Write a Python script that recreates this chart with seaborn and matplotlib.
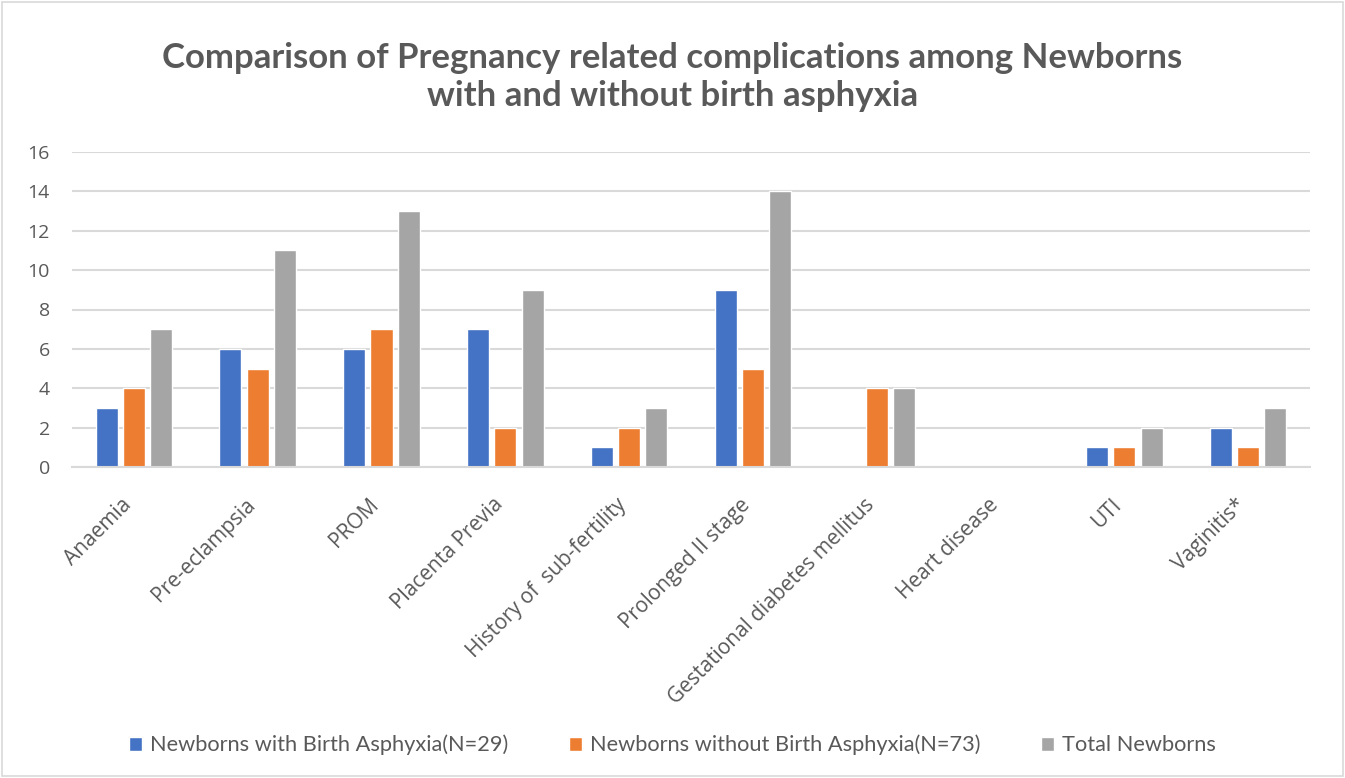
import matplotlib
matplotlib.use("Agg")
import matplotlib.pyplot as plt
import matplotlib.transforms as mtransforms
import seaborn as sns
import pandas as pd
from matplotlib.patches import Rectangle

categories = ["Anaemia", "Pre-eclampsia", "PROM", "Placenta Previa",
              "History of  sub-fertility", "Prolonged II stage",
              "Gestational diabetes mellitus", "Heart disease", "UTI", "Vaginitis*"]
with_asphyxia = [3, 6, 6, 7, 1, 9, 0, 0, 1, 2]
without_asphyxia = [4, 5, 7, 2, 2, 5, 4, 0, 1, 1]
total_newborns = [7, 11, 13, 9, 3, 14, 4, 0, 2, 3]
series_names = ["Newborns with Birth Asphyxia(N=29)",
                "Newborns without Birth Asphyxia(N=73)",
                "Total Newborns"]
y_ticks = [0, 2, 4, 6, 8, 10, 12, 14, 16]
colors = ["#4472C4", "#ED7D31", "#A5A5A5"]

df = pd.DataFrame({
    "category": categories * 3,
    "series": [series_names[0]] * 10 + [series_names[1]] * 10 + [series_names[2]] * 10,
    "value": with_asphyxia + without_asphyxia + total_newborns,
})

sns.set_theme(style="white")
plt.rcParams["font.family"] = ["Lato", "DejaVu Sans"]
text_color = "#595959"
tick_font = ["Open Sans", "DejaVu Sans"]

fig = plt.figure(figsize=(13.45, 7.78), dpi=100)
ax = fig.add_axes([72 / 1345, 1 - 467 / 778, (1310 - 72) / 1345, (467 - 152) / 778])

sns.barplot(data=df, x="category", y="value", hue="series", order=categories,
            hue_order=series_names, palette=colors, width=0.66, gap=0.19,
            saturation=1, ax=ax, legend=True)

ax.set_ylim(0, 16)
ax.set_xlim(-0.5, len(categories) - 0.5)
ax.yaxis.grid(True, color="#D9D9D9", linewidth=1.5)
ax.set_axisbelow(True)
for side in ["top", "right", "left"]:
    ax.spines[side].set_visible(False)
ax.spines["bottom"].set_color("#D9D9D9")
ax.spines["bottom"].set_linewidth(1.5)
ax.set_xlabel("")
ax.set_ylabel("")
ax.tick_params(axis="both", length=0, colors=text_color)
ax.tick_params(axis="y", pad=16)
ax.set_yticks(y_ticks)
ax.set_yticklabels([str(v) for v in y_ticks], family=tick_font, fontsize=14,
                   color=text_color)
ax.set_xticks(range(len(categories)))
ax.set_xticklabels(categories, rotation=45, ha="right", va="top",
                   rotation_mode="anchor", fontsize=15, family=tick_font,
                   color=text_color)
ax.tick_params(axis="x", pad=16)
# nudge the slanted category labels a little left and down
shift = mtransforms.ScaledTranslation(-13 / 100, -5 / 100, fig.dpi_scale_trans)
for lbl in ax.get_xticklabels():
    lbl.set_transform(lbl.get_transform() + shift)

handles, labels = ax.get_legend_handles_labels()
ax.legend_.remove()
fig.legend(handles, labels, loc="center", bbox_to_anchor=(0.5, 1 - 745 / 778),
           ncol=3, frameon=False, fontsize=15.7, handlelength=0.6, handleheight=0.6,
           handletextpad=0.35, columnspacing=2.8, labelcolor=text_color)

fig.text(0.5, 1 - 77 / 778,
         "Comparison of Pregnancy related complications among Newborns\nwith and without birth asphyxia",
         ha="center", va="center", fontsize=25, fontweight="bold", color=text_color,
         linespacing=1.25)

fig.patches.append(Rectangle((0.0015, 0.002), 0.997, 0.996, transform=fig.transFigure,
                             fill=False, edgecolor="#D9D9D9", linewidth=1.2))

fig.savefig("out.png", dpi=100)
